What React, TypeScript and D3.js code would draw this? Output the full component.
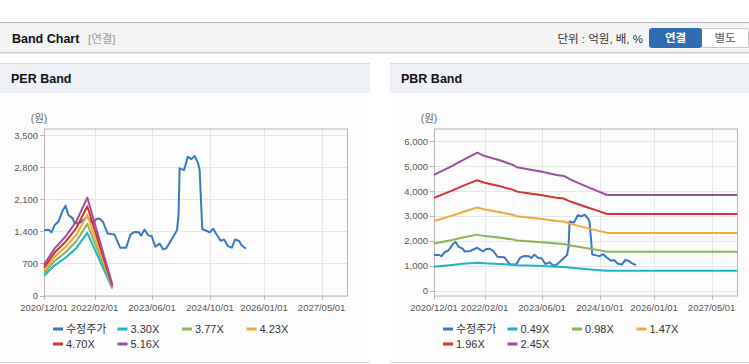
import React from "react";
import * as d3 from "d3";

// ---------- data ----------
const priceDates = [
  "2020-12-01","2021-01-15","2021-02-01","2021-03-01","2021-04-01","2021-05-10","2021-06-01","2021-06-25",
  "2021-08-01","2021-08-15","2021-10-01","2021-12-01","2022-01-18","2022-02-15","2022-03-12","2022-04-12",
  "2022-05-22","2022-07-18","2022-09-04","2022-10-25","2022-12-01","2023-01-04","2023-02-10","2023-03-01",
  "2023-03-28","2023-05-01","2023-05-28","2023-06-28","2023-08-04","2023-09-01","2023-09-28","2023-11-25",
  "2023-12-28","2024-01-10","2024-01-19","2024-02-25","2024-03-28","2024-04-28","2024-05-25","2024-06-22",
  "2024-07-06","2024-07-19","2024-07-28","2024-09-01","2024-09-28","2024-10-28","2024-11-25","2025-01-01",
  "2025-01-28","2025-03-01","2025-04-04","2025-05-01","2025-06-04","2025-06-25","2025-08-01"
];
const priceValues = [
  1430,1430,1380,1540,1610,1870,1960,1760,
  1685,1575,1590,1720,1575,1670,1685,1610,
  1355,1335,1045,1045,1335,1390,1380,1310,
  1440,1310,1300,1065,1135,1010,1030,1280,
  1430,1760,2780,2740,3030,2980,3050,2900,
  2740,1975,1450,1415,1380,1460,1340,1195,
  1225,1080,1045,1225,1190,1100,1020
];

const perBandDates = ["2020-12-01","2021-03-01","2021-06-01","2021-09-01","2021-12-01","2022-07-01"];
const per330 = [430, 660, 825, 1040, 1370, 150];
const per377 = [490, 755, 945, 1190, 1565, 170];
const per423 = [550, 845, 1060, 1330, 1755, 190];
const per470 = [610, 940, 1175, 1480, 1950, 210];
const per516 = [670, 1030, 1290, 1625, 2140, 232];

const pbrBandDates = [
  "2020-12-01","2021-05-01","2021-08-01","2021-12-01","2022-02-01","2022-06-01","2022-10-01","2022-11-01",
  "2023-02-01","2023-06-01","2023-10-01","2023-12-01","2024-02-01","2024-06-01","2024-09-01","2024-12-01","2027-12-01"
];
const pbr049 = [955,1025,1075,1120,1095,1070,1040,1020,1005,985,955,945,915,865,830,800,800];
const pbr098 = [1890,2030,2130,2250,2190,2130,2050,2010,1980,1940,1890,1870,1810,1710,1640,1560,1560];
const pbr147 = [2800,3010,3160,3340,3260,3160,3040,2985,2940,2880,2800,2775,2680,2530,2420,2320,2320];
const pbr196 = [3730,4020,4210,4440,4340,4210,4050,3980,3910,3830,3730,3700,3570,3370,3225,3080,3080];
const pbr245 = [4650,5010,5250,5550,5410,5250,5050,4960,4880,4780,4650,4610,4450,4200,4020,3845,3845];

const xTickLabels = ["2020/12/01","2022/02/01","2023/06/01","2024/10/01","2026/01/01","2027/05/01"];
const perYTicks = [0, 700, 1400, 2100, 2800, 3500];
const pbrYTicks = [0, 1000, 2000, 3000, 4000, 5000, 6000];
const perLegend = ["수정주가", "3.30X", "3.77X", "4.23X", "4.70X", "5.16X"];
const pbrLegend = ["수정주가", "0.49X", "0.98X", "1.47X", "1.96X", "2.45X"];

const COLORS = ["#3a78c4", "#1fb3c6", "#8db353", "#f3a83b", "#d8312b", "#9a4f9f"];
const FONT = "'Liberation Sans', Arial, 'Noto Sans CJK KR', sans-serif";

const parse = d3.timeParse("%Y-%m-%d");
const parseSlash = d3.timeParse("%Y/%m/%d");

type Series = { dates: string[]; values: number[]; color: string };

function Panel(props: {
  x0: number; width: number; title: string; plotLeft: number; yDomain: [number, number];
  yTicks: number[]; series: Series[]; legend: string[];
}) {
  const { x0, width, title, plotLeft, yDomain, yTicks, series, legend } = props;
  const plotTop = 128.5, plotBottom = 295.5, plotW = 303;
  const x = d3.scaleTime()
    .domain([parse("2020-12-01") as Date, parse("2027-12-01") as Date])
    .range([plotLeft, plotLeft + plotW]);
  const y = d3.scaleLinear().domain(yDomain).range([plotBottom, plotTop]);
  const line = d3.line<[Date, number]>().x(d => x(d[0])).y(d => y(d[1]));
  const xTicks = xTickLabels.map(t => parseSlash(t) as Date);
  const fmt = d3.format(",");
  return (
    <g>
      <rect x={x0} y={63} width={width} height={300} fill="#fdfdfd" />
      <rect x={x0} y={63.5} width={width} height={29.5} fill="#eef2f7" />
      <line x1={x0} x2={x0 + width} y1={63.5} y2={63.5} stroke="#dcdcdc" />
      <line x1={x0} x2={x0 + width} y1={362.5} y2={362.5} stroke="#d4d4d4" />
      <text x={x0 + 11} y={83} fontFamily={FONT} fontWeight="bold" fontSize={12.5} fill="#111">{title}</text>
      <text x={plotLeft - 5} y={122} fontFamily={FONT} fontSize={10.5} fill="#666" textAnchor="middle">(원)</text>
      {/* grid */}
      {yTicks.map(t => (
        <line key={"gy" + t} x1={plotLeft} x2={plotLeft + plotW} y1={Math.round(y(t)) + 0.5} y2={Math.round(y(t)) + 0.5} stroke="#e6e6e6" />
      ))}
      {xTicks.map((t, i) => (
        <line key={"gx" + i} x1={Math.round(x(t)) + 0.5} x2={Math.round(x(t)) + 0.5} y1={plotTop} y2={plotBottom} stroke="#e6e6e6" />
      ))}
      <rect x={plotLeft + 0.5} y={plotTop + 0.5} width={plotW} height={plotBottom - plotTop} fill="none" stroke="#b4b4b4" />
      {/* ticks */}
      {yTicks.map(t => (
        <g key={"ty" + t}>
          <line x1={plotLeft - 4} x2={plotLeft} y1={Math.round(y(t)) + 0.5} y2={Math.round(y(t)) + 0.5} stroke="#b4b4b4" />
          <text x={plotLeft - 6} y={y(t) + 3.5} textAnchor="end" fontFamily={FONT} fontSize={9.5} fill="#555">{fmt(t)}</text>
        </g>
      ))}
      {xTicks.map((t, i) => (
        <g key={"tx" + i}>
          <line x1={Math.round(x(t)) + 0.5} x2={Math.round(x(t)) + 0.5} y1={plotBottom} y2={plotBottom + 4} stroke="#b4b4b4" />
          <text x={x(t)} y={311} textAnchor="middle" fontFamily={FONT} fontSize={9.5} fill="#555">{xTickLabels[i]}</text>
        </g>
      ))}
      {/* series: price first, bands drawn over it */}
      {series.map((s, i) => {
        const pts = s.dates.map((d, j) => [parse(d) as Date, s.values[j]] as [Date, number]);
        return <path key={"s" + i} d={line(pts) || ""} fill="none" stroke={s.color} strokeWidth={2} strokeLinejoin="round" />;
      })}
      {/* legend */}
      {legend.map((name, i) => {
        const col = i % 4, row = Math.floor(i / 4);
        const lx = plotLeft + 9 + col * 64.5;
        const ly = 329 + row * 15;
        return (
          <g key={"lg" + i}>
            <line x1={lx} x2={lx + 10} y1={ly} y2={ly} stroke={series[i].color} strokeWidth={3} />
            <text x={lx + 13} y={ly + 4} fontFamily={FONT} fontSize={11} fill="#333">{name}</text>
          </g>
        );
      })}
    </g>
  );
}

export default function App() {
  const perSeries: Series[] = [
    { dates: priceDates, values: priceValues, color: COLORS[0] },
    { dates: perBandDates, values: per330, color: COLORS[1] },
    { dates: perBandDates, values: per377, color: COLORS[2] },
    { dates: perBandDates, values: per423, color: COLORS[3] },
    { dates: perBandDates, values: per470, color: COLORS[4] },
    { dates: perBandDates, values: per516, color: COLORS[5] },
  ];
  const pbrSeries: Series[] = [
    { dates: priceDates, values: priceValues, color: COLORS[0] },
    { dates: pbrBandDates, values: pbr049, color: COLORS[1] },
    { dates: pbrBandDates, values: pbr098, color: COLORS[2] },
    { dates: pbrBandDates, values: pbr147, color: COLORS[3] },
    { dates: pbrBandDates, values: pbr196, color: COLORS[4] },
    { dates: pbrBandDates, values: pbr245, color: COLORS[5] },
  ];
  return (
    <svg width={749} height={364} style={{ position: "absolute", left: 0, top: 0, background: "#fff" }}>
      {/* header bar */}
      <rect x={0} y={22} width={749} height={31} fill="#f4f4f4" />
      <line x1={0} x2={749} y1={22.5} y2={22.5} stroke="#b9b9b9" />
      <line x1={0} x2={749} y1={52.5} y2={52.5} stroke="#c8c8c8" />
      <line x1={0} x2={749} y1={53.5} y2={53.5} stroke="#e8e8e8" />
      <text x={12} y={43} fontFamily={FONT} fontWeight="bold" fontSize={12.5} fill="#111">Band Chart</text>
      <text x={88} y={43} fontFamily={FONT} fontSize={11.5} fill="#999">[연결]</text>
      <text x={643} y={43} textAnchor="end" fontFamily={FONT} fontSize={11.5} fill="#333">단위 : 억원, 배, %</text>
      <rect x={701.5} y={28.5} width={47} height={19} fill="#fff" stroke="#c8c8c8" rx={2} />
      <rect x={649} y={28} width={53} height={20} fill="#2f6db3" rx={3} />
      <text x={675.5} y={42} textAnchor="middle" fontFamily={FONT} fontWeight="bold" fontSize={11.5} fill="#fff">연결</text>
      <text x={725} y={42} textAnchor="middle" fontFamily={FONT} fontSize={11.5} fill="#555">별도</text>
      <Panel x0={0} width={370} title="PER Band" plotLeft={44} yDomain={[0, 3650]} yTicks={perYTicks} series={perSeries} legend={perLegend} />
      <Panel x0={390} width={359} title="PBR Band" plotLeft={434} yDomain={[-200, 6520]} yTicks={pbrYTicks} series={pbrSeries} legend={pbrLegend} />
    </svg>
  );
}
